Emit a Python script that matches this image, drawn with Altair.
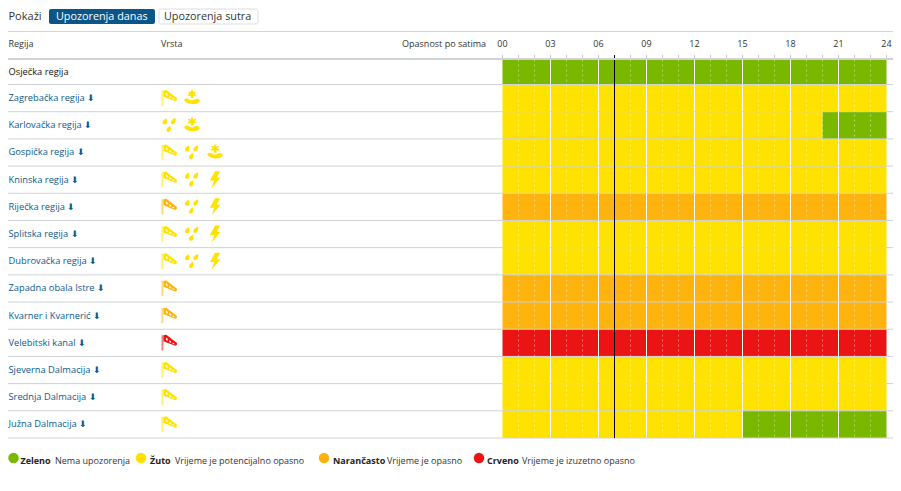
import altair as alt
import pandas as pd

FONT = "Open Sans"
rows = ["Osječka regija", "Zagrebačka regija", "Karlovačka regija", "Gospička regija", "Kninska regija",
        "Riječka regija", "Splitska regija", "Dubrovačka regija", "Zapadna obala Istre", "Kvarner i Kvarnerić",
        "Velebitski kanal", "Sjeverna Dalmacija", "Srednja Dalmacija", "Južna Dalmacija"]
segments = [
    [("Zeleno", 0, 24)],
    [("Žuto", 0, 24)],
    [("Žuto", 0, 20), ("Zeleno", 20, 24)],
    [("Žuto", 0, 24)],
    [("Žuto", 0, 24)],
    [("Narančasto", 0, 24)],
    [("Žuto", 0, 24)],
    [("Žuto", 0, 24)],
    [("Narančasto", 0, 24)],
    [("Narančasto", 0, 24)],
    [("Crveno", 0, 24)],
    [("Žuto", 0, 24)],
    [("Žuto", 0, 24)],
    [("Žuto", 0, 15), ("Zeleno", 15, 24)],
]
icons = [[], ["sock", "sun"], ["rain", "sun"], ["sock", "rain", "sun"], ["sock", "rain", "bolt"],
         ["sock", "rain", "bolt"], ["sock", "rain", "bolt"], ["sock", "rain", "bolt"],
         ["sock"], ["sock"], ["sock"], ["sock"], ["sock"], ["sock"]]
sock_level = ["Žuto", "Žuto", "Žuto", "Žuto", "Žuto", "Narančasto", "Žuto", "Žuto", "Narančasto", "Narančasto",
              "Crveno", "Žuto", "Žuto", "Žuto"]
levels = ["Zeleno", "Žuto", "Narančasto", "Crveno"]
level_colors = ["#7ab800", "#ffe200", "#ffb30f", "#ea1414"]
level_texts = ["Nema upozorenja", "Vrijeme je potencijalno opasno", "Vrijeme je opasno", "Vrijeme je izuzetno opasno"]
hour_labels = ["00", "03", "06", "09", "12", "15", "18", "21", "24"]
now_hour = 7.0

W, H = 885, 470
# page-pixel helpers (the svg starts 8px into the page)
px = lambda v: v - 8
py = lambda v: v - 8

x_scale = alt.Scale(domain=[0, 24], range=[px(502.5), px(886.5)])
y_scale = alt.Scale(domain=[0, 1, 14], range=[py(59.5), py(84.5), py(438)])
color_scale = alt.Scale(domain=levels, range=level_colors)
X = alt.X("x:Q", scale=x_scale, axis=None)
Y = alt.Y("y:Q", scale=y_scale, axis=None)

cells = pd.DataFrame([
    {"y": i, "y2": i + 1, "x": a, "x2": b, "level": l}
    for i, segs in enumerate(segments) for (l, a, b) in segs
])
cell_layer = alt.Chart(cells).mark_rect().encode(
    x=X, x2="x2:Q", y=Y, y2="y2:Q",
    color=alt.Color("level:N", scale=color_scale, legend=None))

hours = pd.DataFrame({"x": list(range(25))})
hours["major"] = hours["x"] % 3 == 0
y0 = alt.value(py(59.5))
y1 = alt.value(py(438))
major = alt.Chart(hours[hours.major & (hours.x > 0) & (hours.x < 24)]).mark_rule(color="#ffffff", strokeWidth=1).encode(
    x=X, y=y0, y2=y1)
minor = alt.Chart(hours[~hours.major]).mark_rule(color="#ffffff", opacity=0.4, strokeWidth=1, strokeDash=[2, 3]).encode(
    x=X, y=y0, y2=y1)
ticks = alt.Chart(hours).mark_rule(color="#c9c9c9", strokeWidth=1).encode(
    x=X, y=alt.value(py(55)), y2=alt.value(py(59)))
hour_text = alt.Chart(pd.DataFrame({"x": list(range(0, 25, 3)), "t": hour_labels})).mark_text(
    font=FONT, fontSize=9, color="#333333", baseline="middle", align="center").encode(
    x=X, y=alt.value(py(44)), text="t:N")

now = alt.Chart(pd.DataFrame({"x": [now_hour]})).mark_rule(color="#000000", strokeWidth=1).encode(
    x=X, y=alt.value(py(55)), y2=y1)

# horizontal separators
seps = pd.DataFrame({"y": list(range(1, 15))})
sep_layer = alt.Chart(seps).mark_rule(color="#cfd2d6", strokeWidth=1).encode(
    y=Y, x=alt.value(0), x2=alt.value(W))
top_rule = alt.Chart(pd.DataFrame({"a": [0]})).mark_rule(color="#d4d4d4", strokeWidth=1).encode(
    y=alt.value(py(31.5)), x=alt.value(0), x2=alt.value(W))
head_rule = alt.Chart(pd.DataFrame({"a": [0]})).mark_rule(color="#cfd2d6", strokeWidth=2).encode(
    y=alt.value(py(59)), x=alt.value(0), x2=alt.value(W))

# header text
def label(text, x, y, **kw):
    opts = dict(font=FONT, fontSize=9, color="#333333", baseline="middle", align="left")
    opts.update(kw)
    return alt.Chart(pd.DataFrame({"t": [text]})).mark_text(**opts).encode(
        x=alt.value(x), y=alt.value(y), text="t:N")

header = [label("Regija", px(8.5), py(44)), label("Vrsta", px(161), py(44)),
          label("Opasnost po satima", px(486), py(44), align="right")]

# row labels
row_df = pd.DataFrame({"y": [i + 0.5 for i in range(14)], "t": rows,
                       "a": ["" if i == 0 else " ⬇" for i in range(14)]})
row_df["label"] = row_df["t"] + row_df["a"]
row_first = alt.Chart(row_df.iloc[:1]).mark_text(font=FONT, fontSize=9.3, color="#111111", align="left", baseline="middle").encode(
    x=alt.value(px(8.5)), y=Y, text="label:N")
row_rest = alt.Chart(row_df.iloc[1:]).mark_text(font=FONT, fontSize=9.3, color="#0b5a8f", align="left", baseline="middle").encode(
    x=alt.value(px(8.5)), y=Y, text="label:N")

# icons (paths in a -1..1 box)
POLE = "M-1,-0.95 L-0.76,-0.95 L-0.76,0.95 L-1,0.95 Z"
SOCK = ("M-0.76,-0.95 L-0.4,-1 L0.9,0.0 Q1.05,0.3 0.7,0.38 L-0.76,-0.2 Z"
        "M-0.45,-0.68 L-0.45,-0.35 L-0.22,-0.25 L-0.22,-0.5 Z"
        "M-0.02,-0.35 L-0.02,-0.08 L0.2,0.0 L0.2,-0.18 Z"
        "M0.38,-0.05 L0.38,0.1 L0.62,0.2 L0.62,0.12 Z")
DROPS = ("M-0.45,-0.95 Q-0.2,-0.55 -0.4,-0.2 Q-0.75,0 -0.95,-0.3 Q-0.95,-0.65 -0.45,-0.95 Z"
         "M0.8,-1 Q0.9,-0.5 0.6,-0.2 Q0.25,-0.05 0.15,-0.4 Q0.25,-0.75 0.8,-1 Z"
         "M0.1,0.05 Q0.3,0.5 0.1,0.8 Q-0.3,1.05 -0.42,0.65 Q-0.35,0.3 0.1,0.05 Z")
SUN = ("M-0.1,-1 L0.1,-1 L0.12,-0.72 L0.38,-0.85 L0.48,-0.7 L0.28,-0.52 L0.55,-0.4 L0.45,-0.22 L0.2,-0.28 L0.2,0 "
       "L-0.15,0 L-0.15,-0.28 L-0.45,-0.22 L-0.55,-0.4 L-0.28,-0.52 L-0.48,-0.7 L-0.38,-0.85 L-0.12,-0.72 Z"
       "M-1,0.2 Q-0.6,-0.1 -0.45,0.1 Q0,0.45 0.45,0.1 Q0.75,-0.05 1,0.35 Q0.75,0.75 0.1,0.75 Q-0.7,0.75 -1,0.2 Z")
BOLT = ("M0.0,-1 L0.6,-1 L0.2,-0.25 L0.65,-0.25 L-0.4,1 L-0.1,0.1 L-0.6,0.1 Z")
paths = {"sock": SOCK, "rain": DROPS, "sun": SUN, "bolt": BOLT}
sizes = {"sock": 256, "rain": 225, "sun": 256, "bolt": 289}
slots = [169.5, 192, 215]
icon_rows = []
for i, lst in enumerate(icons):
    for j, k in enumerate(lst):
        icon_rows.append({"y": i + 0.5, "slot": j, "kind": k,
                          "level": sock_level[i] if k == "sock" else "Žuto"})
icon_df = pd.DataFrame(icon_rows)
icon_layer = []
for k in paths:
    sub = icon_df[icon_df.kind == k]
    for slot, xpos in enumerate(slots):
        s = sub[sub.slot == slot]
        if s.empty:
            continue
        if k == "sock":
            icon_layer.append(alt.Chart(s).mark_point(shape=POLE, filled=True, opacity=0.55, size=sizes[k], strokeWidth=0).encode(
                x=alt.value(px(xpos)), y=Y,
                color=alt.Color("level:N", scale=color_scale, legend=None)))
        icon_layer.append(alt.Chart(s).mark_point(shape=paths[k], filled=True, opacity=1, size=sizes[k], strokeWidth=0).encode(
            x=alt.value(px(xpos)), y=Y,
            color=alt.Color("level:N", scale=color_scale, legend=None)))

# legend
leg_x = [13.5, 141, 324, 479]
leg_text_x = [20.5, 150, 333, 487]
leg_desc_x = [55, 175, 387, 522]
legend = []
for lv, t, cx, tx, dx in zip(levels, level_texts, leg_x, leg_text_x, leg_desc_x):
    legend.append(alt.Chart(pd.DataFrame({"level": [lv]})).mark_circle(size=110, opacity=1).encode(
        x=alt.value(px(cx)), y=alt.value(py(458)),
        color=alt.Color("level:N", scale=color_scale, legend=None)))
    legend.append(label(lv, px(tx), py(461), fontWeight="bold", color="#222222"))
    legend.append(label(t, px(dx), py(461)))

# top toolbar
toolbar = alt.Chart(pd.DataFrame({"a": [0]}))
btn1 = toolbar.mark_rect(color="#0b5688", cornerRadius=2).encode(
    x=alt.value(px(49)), x2=alt.value(px(155)), y=alt.value(1), y2=alt.value(py(24)))
btn2 = toolbar.mark_rect(color="#ffffff", stroke="#dddddd", strokeWidth=1, cornerRadius=2).encode(
    x=alt.value(px(159)), x2=alt.value(px(258)), y=alt.value(1), y2=alt.value(py(24)))
top_texts = [
    label("Pokaži", px(8.5), py(16.5), fontSize=11),
    label("Upozorenja danas", px(56), py(16.5), fontSize=10.8, color="#ffffff"),
    label("Upozorenja sutra", px(164), py(16.5), fontSize=10.8, color="#333333"),
]

layers = [cell_layer, minor, major, sep_layer, ticks, now, top_rule, head_rule, hour_text,
          row_first, row_rest, btn1, btn2] + header + top_texts + icon_layer + legend
chart = alt.layer(*layers).properties(
    width=W, height=H, padding=0, autosize=alt.AutoSizeParams(type="none"),
).configure_view(stroke=None)
chart.save("out.html", embed_options={"renderer": "svg", "actions": False})
